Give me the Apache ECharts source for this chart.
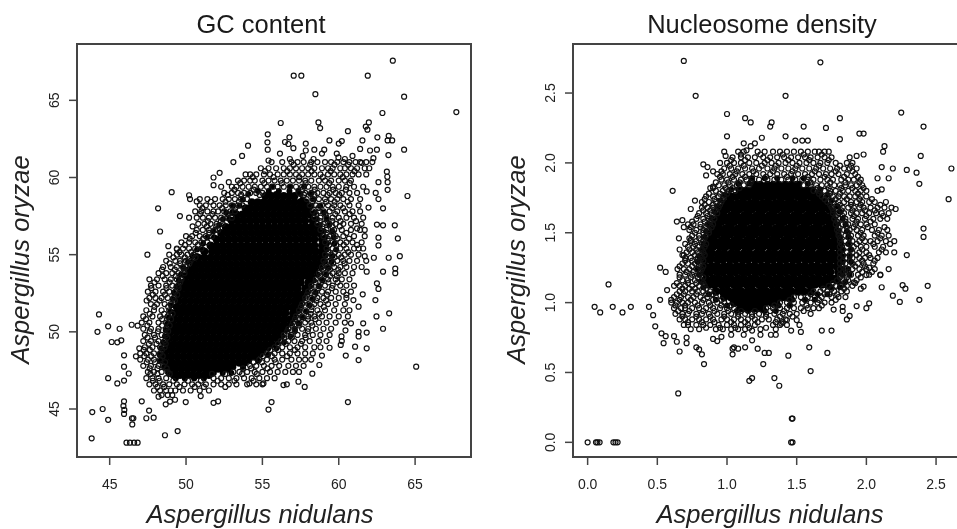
<!DOCTYPE html>
<html><head><meta charset="utf-8">
<style>html,body{margin:0;padding:0;background:#fff}#c{width:957px;height:529px;filter:blur(.45px)}</style>
<script src="https://cdn.jsdelivr.net/npm/echarts@6/dist/echarts.min.js"></script>
</head><body><div id="c"></div>
<script>
const gcTicksX=[45,50,55,60,65];
const gcTicksY=[45,50,55,60,65];
const nucTicksX=[0,0.5,1,1.5,2,2.5];
const nucTicksY=[0,0.5,1,1.5,2,2.5];
// individually readable GC content marks [nidulans, oryzae]
const gcSingles=[[63.54,67.57],[57.05,66.6],[57.55,66.6],[61.9,66.6],[58.47,65.4],[64.28,65.24],[67.7,64.24],[62.86,64.18],[56.2,63.53],[58.67,63.57],[58.78,63.2],[61.97,63.57],[61.77,63.3],[61.88,63.1],[60.6,63],[55.35,62.8],[55.33,62.28],[55.35,61.8],[56.77,62.6],[56.48,62.3],[56.7,62.17],[57.03,61.9],[57.84,62.2],[57.84,61.75],[59.39,62.4],[60.2,62.36],[60,62.2],[61.55,62.4],[62.53,62.6],[63.27,62.7],[63.2,62.4],[63.5,62.4],[54.06,62.06],[53.67,61.4],[53.1,61],[64.28,61.8],[63.25,61.45],[61.4,61.85],[62.05,61.75],[62.5,61.8],[62.27,61.25],[62.2,61],[58.4,61.8],[59.05,61.8],[58.9,61.55],[57.65,61.4],[58.35,61.2],[56.15,61.55],[56.8,61.2],[55.4,61.1],[59.87,61.55],[59.98,61.3],[60.4,61.2],[60.9,61.4],[61.5,60.95],[63.15,60.38],[63.18,60.05],[63.2,59.7],[62.6,59.7],[63.2,59.2],[64.5,58.8],[52.2,60.3],[51.8,60],[51.8,59.5],[52.3,59.4],[52.8,59.7],[49.06,59.05],[50.2,58.85],[50.26,58.6],[50.7,58.45],[48.17,58],[49.6,57.5],[48.3,56.5],[62.9,58],[62.42,59],[61.83,59.1],[62.6,58.6],[61.95,58.05],[62.5,56.95],[62.9,56.9],[63.67,56.9],[61.2,56.7],[63.87,56.05],[62.6,56.1],[62.6,55.6],[64,54.9],[63.27,54.8],[62.3,54.8],[61.7,54.9],[47.47,55],[48.84,55.55],[49.4,55.35],[65.07,47.74],[60.6,45.45],[55.6,45.45],[55.4,44.96],[43.82,43.1],[43.86,44.8],[44.54,45],[44.9,44.3],[44.3,51.13],[44.2,50],[44.9,50.36],[45.65,50.2],[45.13,49.34],[45.5,49.32],[45.76,49.45],[45.94,48.48],[45.94,47.74],[44.9,47],[45.5,46.66],[45.94,46.84],[46.25,47.3],[46.44,50.46],[46.83,50.4],[46.72,48.41],[46.94,48.93],[45.94,45.5],[45.9,45.2],[45.96,44.94],[45.94,44.68],[46.46,44.4],[46.55,44.4],[46.48,44],[46.1,42.82],[46.33,42.82],[46.6,42.82],[46.83,42.82],[47.1,45.5],[47.58,44.9],[47.4,44.4],[47.88,44.44],[48.62,43.3],[49.45,43.57],[48.67,45.3],[48.95,45.48],[49.28,45.6],[49.98,45.45],[50.96,45.84],[51.8,45.4],[52.1,45.5],[48.2,45.8],[57.77,46.43],[57.36,46.77],[56.38,46.55],[56.6,46.6],[54.15,46.66],[55.07,46.66],[58.27,47.29],[58.73,47.85],[58.9,48.46],[59.4,48.97],[60.46,48.46],[61.3,48.17],[61.83,48.93],[61.07,49.04],[60.13,49.15],[60.2,49.4],[60.18,49.7],[61.3,49.7],[61.3,50],[61.83,49.95],[62.9,50.2],[62.47,51],[63.3,51.2],[61.6,50.55],[60.8,50.55],[60.44,50.1],[62.4,52.06],[62.5,53.14],[62.6,52.78],[61.83,53.9],[62.9,53.9],[63.7,54.1],[63.7,53.8],[61.57,52.43],[61.3,51.63],[60.96,52.06],[60.5,52.4]];
// rows [oryzae, nidulans...] estimated around the solid centre
const gcFringeRows=[
[61,55.6,56.3,56.9,57.3,57.7,58.2,58.6,59.1,59.5,59.9,60.3,60.7,61.1,61.4,61.8],
[60.6,54.9,55.4,55.9,56.4,56.8,57.2,57.6,58,58.4,58.9,59.3,59.6,60.1,60.4,60.8,61.2,61.7,62],
[60.2,53.9,54.2,54.6,55.1,55.5,56,56.4,56.8,57.2,57.6,58,58.4,58.8,59.3,59.7,60.1,60.5,60.9,61.3,61.8],
[59.8,53.4,53.8,54.2,54.5,55,55.4,55.8,56.2,56.6,57,57.4,57.8,58.2,58.7,59.1,59.5,60,60.4,60.8],
[59.4,53,53.3,53.7,54.1,54.5,54.9,55.3,55.7,56,56.4,56.8,57.2,57.6,58,58.4,58.8,59.2,59.6,60,60.5,61,61.6],
[59,52.5,53,53.4,53.8,54.2,54.6,55,57.4,57.8,58.2,58.6,59,59.4,59.8,60.2,60.7,61.2],
[58.6,50.9,51.4,51.9,52.4,52.8,53.2,53.6,54,57.9,58.3,58.7,59.1,59.5,59.9,60.3,60.8,61.4],
[58.2,50.9,51.3,51.8,52.2,52.6,53,53.4,53.7,58.1,58.5,58.9,59.3,59.7,60.1,60.7,61.3],
[57.8,50.6,51,51.4,51.8,52.1,52.5,52.9,53.2,58.3,58.7,59,59.4,59.9,60.4,60.9,61.4],
[57.4,50.2,50.7,51.1,51.5,51.9,52.3,52.7,53,58.4,58.8,59.2,59.6,60,60.5,61,61.6],
[57,50.8,51.2,51.6,52,52.4,58.6,59,59.4,59.8,60.3,60.8,61.5],
[56.6,50.7,51.1,51.5,51.9,52.1,58.8,59.2,59.7,60.2,60.8,61.4,61.7],
[56.2,50,50.4,50.9,51.3,51.7,59,59.4,59.8,60.3,61,61.7],
[55.8,49.7,50.2,50.6,51,51.4,59.1,59.6,60.1,60.5,60.9,61.5],
[55.4,49.4,49.8,50.2,50.6,51,59.2,59.6,60.1,60.5,61,61.3,61.6],
[55,48.9,49.4,49.7,50.1,50.5,59.1,59.5,60,60.4,60.8,61.3],
[54.6,48.7,49.3,49.6,50,50.3,59,59.4,59.9,60.3,60.7,61.2,61.8],
[54.2,48.5,49,49.4,49.8,50,58.9,59.3,59.7,60.1,60.5,61,61.5],
[53.8,48.2,48.7,49.1,49.5,49.9,58.7,59.1,59.6,60,60.4,60.9],
[53.4,47.6,48.1,48.6,49,49.4,49.7,58.5,58.9,59.3,59.8,60.2,60.7],
[53,47.7,48.2,48.7,49.1,49.5,58.2,58.7,59.1,59.6,60.1,60.5,61],
[52.6,47.5,48,48.5,48.9,49.3,58,58.4,58.9,59.3,59.8,60.3,60.8],
[52.2,47.6,48,48.4,48.8,49.2,57.8,58.2,58.6,59,59.5,60,60.5],
[51.8,47.7,48.1,48.6,49,57.6,58,58.4,58.8,59.3,59.8,60.4],
[51.4,47.4,47.9,48.4,48.9,57.4,57.8,58.2,58.6,59.1,59.7,60.3,60.7],
[51,47.2,47.8,48.3,48.8,57.2,57.6,58,58.4,58.9,59.4,60,60.6],
[50.6,47.1,47.6,48.2,48.7,57,57.4,57.8,58.2,58.7,59.2,59.8,60.4],
[50.2,47.2,47.7,48.2,48.7,56.7,57.1,57.6,58,58.5,59,59.5],
[49.8,47.3,47.9,48.4,48.7,56.4,56.9,57.3,57.8,58.3,58.8,59.4],
[49.4,47.2,47.7,48.2,48.6,56.2,56.7,57.1,57.6,58.1,58.7,59.2],
[49,47.3,47.8,48.3,48.6,55.8,56.3,56.8,57.3,57.8,58.4,58.8],
[48.6,47,47.4,47.9,48.3,55.3,55.8,56.3,56.8,57.3,57.8,58.3],
[48.2,47,47.5,47.9,48.3,54.8,55.3,55.8,56.3,56.9,57.4,57.8,58.2],
[47.8,47.2,47.7,48.2,48.5,54.2,54.6,55.1,55.6,56.1,56.7,57.2,57.7],
[47.4,47.5,47.9,48.4,48.8,53.1,53.5,54,54.5,55,55.5,56,56.5,57,57.4],
[47,47.4,47.8,48.2,48.7,51.8,52.3,52.8,53.3,53.8,54.3,54.8,55.3,55.8],
[46.6,47.6,48,48.5,48.9,49.4,49.9,50.4,50.8,51.3,51.8,52.3,52.8,53.3,54,54.6,55],
[46.2,47.9,48.3,48.7,49,49.3,49.8,50.3,50.9,51.5],
[45.9,48.4,48.8,49.1]];
const gcFringeExtra=[[60.83,57.05,58.13,59.72,60.62],[60.41,55.17,56.63,58.22,59.47,61.03],[60.03,54.37,55.73,57.41,58.96,60.27],[59.63,53.55,55.12,56.27,57.83,59.38,60.72],[59.21,53.17,54.43,57.62,58.43,59.64,60.47],[58.87,52.73,53.61,54.82,57.73,58.41,59.27,60.03],[58.43,51.62,52.58,53.46,58.27,59.18,59.73,60.58],[58.02,51.07,52.37,53.23,58.66,59.57,60.28],[57.63,50.93,51.73,52.72,58.52,59.13,59.77,60.71],[57.17,51.43,52.28,58.81,59.58,60.12,61.13],[56.83,50.43,51.37,51.98,58.93,59.57,60.07],[56.41,50.63,51.52,59.22,59.63,60.5],[56.04,50.24,51.12,59.28,59.92,60.67],[55.63,49.93,50.78,59.37,59.83,60.33,61.2],[55.17,49.57,50.33,59.32,59.76,60.62],[54.83,49.17,49.92,50.63,59.27,59.72,60.17],[54.43,48.93,49.62,50.22,59.12,59.63,60.38],[54.03,48.43,49.27,49.87,58.97,59.42,59.97],[53.62,48.47,49.33,58.77,59.43,59.87],[53.21,47.93,48.92,49.62,58.47,59.33,59.92],[52.83,47.73,48.72,49.51,58.22,58.67,59.56],[52.41,47.83,48.62,49.42,57.93,58.42,59.22],[52.03,47.42,48.27,49.27,57.83,58.52,59.17],[51.62,47.93,48.83,57.52,58.23,59.02],[51.17,47.62,48.57,49.12,57.43,58.17,58.73],[50.82,47.38,48.43,49.02,57.13,57.98,58.47],[50.41,47.47,48.43,48.93,56.93,57.42,58.27],[50.03,47.62,48.17,48.83,56.63,57.12,57.97],[49.63,47.48,47.97,48.77,56.42,56.93,57.83],[49.22,47.57,48.07,48.67,56.02,56.53,57.52],[48.83,47.23,47.63,48.42,55.52,56.03,57.13],[48.42,47.27,47.73,48.47,55.03,55.63,56.62],[48.03,47.43,47.97,48.63,54.42,54.97,55.87],[47.63,47.62,48.13,48.73,53.73,54.27,55.33],[47.27,47.67,48.12,48.93,51.7,52.57,53.67,54.63],[46.83,47.83,48.27,49.17,50.13,50.97,52.07,53.17,54.42],[46.43,48.13,48.57,49.57,50.57,51.17,52.57]];
const gcEdgeRows=[[59.13,54.7,55.42,56.08,56.77,57.35],[59.42,55.63,56.83,57.73],[58.93,54.08,55.9,57.48,58.17],[58.57,53.72,57.62,58.36],[58.17,53.07,53.5,58.21,58.78],[57.73,52.63,53.02,58.42,59.03],[57.31,52.42,52.82,58.57,59.21],[56.93,52.17,58.76,59.37],[56.52,51.78,59.02,59.58],[56.13,51.4,51.83,59.13,59.67],[55.72,51.12,59.23,59.72],[55.33,50.72,51.07,59.21,59.83],[54.92,50.42,50.7,59.12,59.6],[54.52,50.13,50.36,59.07,59.52],[54.13,49.82,58.83,59.33],[53.72,49.67,58.61,59.17],[53.33,49.53,58.37,58.93],[52.93,49.37,58.12,58.71],[52.53,49.21,57.93,58.5],[52.13,49.13,57.66,58.27],[51.72,49.02,57.52,58.07],[51.33,48.97,57.33,57.86],[50.93,48.88,57.12,57.62],[50.52,48.77,56.86,57.37],[50.12,48.67,56.57,57.13],[49.72,48.62,56.3,56.83],[49.32,48.5,56,56.42],[48.93,48.37,55.4,55.92],[48.52,48.27,54.9,55.37],[48.12,48.33,54.13,54.72],[47.72,48.57,53.1,53.73],[47.33,48.87,51.82,52.4,52.97],[46.97,49.33,49.92,50.53,51.17]];
// rows where the rings overlap into solid black
const gcCoreRows=[
[58.8,55.2,55.6,56,56.4,56.8,57.1],
[58.4,54.3,54.7,55.1,55.5,55.9,56.3,56.7,57.1,57.5,57.8],
[58,53.9,54.2,54.6,55,55.4,55.8,56.2,56.6,57,57.4,57.8,58],
[57.6,53.3,53.7,54.1,54.5,54.9,55.3,55.7,56.1,56.5,56.9,57.3,57.7,58.1],
[57.2,53,53.4,53.8,54.2,54.6,55,55.4,55.8,56.2,56.6,57,57.4,57.8,58.3],
[56.8,52.6,53,53.4,53.8,54.2,54.6,55,55.4,55.8,56.2,56.6,57,57.4,57.8,58.2,58.6],
[56.4,52.3,52.7,53.1,53.5,53.9,54.3,54.7,55.1,55.5,55.9,56.3,56.7,57.1,57.5,57.9,58.3,58.7],
[56,52,52.4,52.8,53.2,53.6,54,54.4,54.8,55.2,55.6,56,56.4,56.8,57.2,57.6,58,58.4,58.9],
[55.6,51.6,52,52.4,52.8,53.2,53.6,54,54.4,54.8,55.2,55.6,56,56.4,56.8,57.2,57.6,58,58.4,58.9],
[55.2,51.2,51.7,52.1,52.5,52.9,53.3,53.7,54.1,54.5,54.9,55.3,55.7,56.1,56.5,56.9,57.3,57.7,58.1,58.5,58.9],
[54.8,50.8,51.2,51.6,52,52.4,52.8,53.2,53.6,54,54.4,54.8,55.2,55.6,56,56.4,56.8,57.2,57.6,58,58.4,58.8],
[54.4,50.5,50.9,51.3,51.7,52.1,52.5,52.9,53.3,53.7,54.1,54.5,54.9,55.3,55.7,56.1,56.5,56.9,57.3,57.7,58.1,58.5,58.7],
[54,50.2,50.6,51,51.4,51.8,52.2,52.6,53,53.4,53.8,54.2,54.6,55,55.4,55.8,56.2,56.6,57,57.4,57.8,58.2,58.4],
[53.6,50,50.4,50.8,51.2,51.6,52,52.4,52.8,53.2,53.6,54,54.4,54.8,55.2,55.6,56,56.4,56.8,57.2,57.6,58,58.2],
[53.2,49.9,50.3,50.7,51.1,51.5,51.9,52.3,52.7,53.1,53.5,53.9,54.3,54.7,55.1,55.5,55.9,56.3,56.7,57.1,57.5,58],
[52.8,49.7,50.1,50.5,50.9,51.3,51.7,52.1,52.5,52.9,53.3,53.7,54.1,54.5,54.9,55.3,55.7,56.1,56.5,56.9,57.3,57.8],
[52.4,49.6,50,50.4,50.8,51.2,51.6,52,52.4,52.8,53.2,53.6,54,54.4,54.8,55.2,55.6,56,56.4,56.8,57.2,57.6],
[52,49.5,49.9,50.3,50.7,51.1,51.5,51.9,52.3,52.7,53.1,53.5,53.9,54.3,54.7,55.1,55.5,55.9,56.3,56.7,57.1,57.4],
[51.6,49.4,49.8,50.2,50.6,51,51.4,51.8,52.2,52.6,53,53.4,53.8,54.2,54.6,55,55.4,55.8,56.2,56.6,57,57.2],
[51.2,49.3,49.7,50.1,50.5,50.9,51.3,51.7,52.1,52.5,52.9,53.3,53.7,54.1,54.5,54.9,55.3,55.7,56.1,56.5,57],
[50.8,49.2,49.6,50,50.4,50.8,51.2,51.6,52,52.4,52.8,53.2,53.6,54,54.4,54.8,55.2,55.6,56,56.4,56.8],
[50.4,49.1,49.5,49.9,50.3,50.7,51.1,51.5,51.9,52.3,52.7,53.1,53.5,53.9,54.3,54.7,55.1,55.5,55.9,56.3,56.5],
[50,49,49.4,49.8,50.2,50.6,51,51.4,51.8,52.2,52.6,53,53.4,53.8,54.2,54.6,55,55.4,55.8,56.2],
[49.6,48.9,49.3,49.7,50.1,50.5,50.9,51.3,51.7,52.1,52.5,52.9,53.3,53.7,54.1,54.5,54.9,55.3,55.7,56],
[49.2,48.8,49.2,49.6,50,50.4,50.8,51.2,51.6,52,52.4,52.8,53.2,53.6,54,54.4,54.8,55.2,55.6],
[48.8,48.7,49.1,49.5,49.9,50.3,50.7,51.1,51.5,51.9,52.3,52.7,53.1,53.5,53.9,54.3,54.7,55],
[48.4,48.6,49,49.4,49.8,50.2,50.6,51,51.4,51.8,52.2,52.6,53,53.4,53.8,54.2,54.5],
[48,48.7,49.1,49.5,49.9,50.3,50.7,51.1,51.5,51.9,52.3,52.7,53.1,53.5,53.8],
[47.6,48.9,49.3,49.7,50.1,50.5,50.9,51.3,51.7,52.1,52.5,52.8],
[47.2,49.2,49.6,50,50.4,50.8,51.2,51.5]];
const nucSingles=[[.69,2.73],[1.67,2.72],[.775,2.48],[1.42,2.48],[1,2.35],[1.13,2.32],[1.17,2.29],[1.32,2.29],[1.31,2.26],[1.55,2.26],[1.71,2.25],[1.81,2.32],[2.25,2.36],[2.41,2.26],[1,2.19],[1.25,2.18],[1.42,2.19],[1.49,2.16],[1.54,2.16],[1.58,2.16],[1.81,2.17],[1.95,2.21],[1.98,2.21],[1.12,2.14],[1.2,2.14],[1.17,2.12],[1.14,2.09],[2.13,2.12],[2.12,2.08],[2.39,2.05],[1.98,2.06],[1.93,2.05],[2.11,1.97],[2.19,1.96],[2.29,1.95],[2.36,1.93],[2.38,1.85],[2.61,1.96],[2.59,1.74],[2.08,1.89],[2.16,1.89],[.61,1.8],[.77,1.73],[.74,1.67],[.98,2.08],[.99,2.05],[.83,1.99],[.86,1.97],[.85,1.91],[.9,1.94],[.93,1.92],[.95,2],[.88,1.82],[.9,1.83],[2.41,1.53],[2.41,1.47],[2.29,1.34],[2.21,1.67],[2.14,1.72],[2.11,1.81],[2.08,1.8],[.64,1.58],[.68,1.59],[.655,1.46],[.66,1.38],[.68,1.34],[.69,1.54],[.74,1.45],[.15,1.13],[.05,.97],[.09,.93],[.18,.97],[.25,.93],[.31,.97],[.44,.97],[.47,.91],[.485,.83],[.52,1.02],[.57,1.09],[.52,1.25],[.56,1.22],[.645,1.24],[.53,.78],[.56,.76],[.545,.71],[.62,.76],[.64,.72],[.71,.75],[.71,.71],[.66,.65],[.78,.68],[.8,.665],[.82,.63],[.835,.56],[.65,.35],[.9,.74],[.93,.725],[.96,.755],[1.03,.77],[1.12,.77],[1.18,.8],[1.18,.73],[1.24,.77],[1.05,.68],[1.04,.67],[1.04,.63],[1.08,.67],[1.13,.68],[1.22,.67],[1.27,.64],[1.3,.64],[1.44,.62],[1.59,.68],[1.72,.64],[1.6,.51],[1.26,.56],[1.18,.46],[1.16,.44],[1.34,.46],[1.375,.405],[1.315,.77],[1.35,.77],[1.46,.8],[1.53,.79],[1.68,.8],[1.75,.8],[1.465,.17],[1.47,.17],[0,0],[.06,0],[.086,0],[.07,0],[.185,0],[.215,0],[.2,0],[1.46,0],[1.47,0],[2.44,1.12],[2.38,1.02],[2.19,1.05],[2.24,1.005],[2.26,1.125],[2.28,1.1],[2.11,1.11],[2.02,.995],[2,.96],[1.93,.975],[1.88,.905],[1.86,.88],[1.83,.97],[1.83,.94],[1.765,.95],[1.735,1.06],[1.98,1.115],[1.96,1.1],[1.91,1.145],[2,1.197],[2.1,1.197],[2.16,1.24],[2.02,1.25],[1.5,.875],[1.52,.84],[1.43,.875],[1.39,.85]];
const nucFringeRows=[
[2.08,1.08,1.12,1.22,1.27,1.33,1.38,1.43,1.48,1.53,1.58,1.63,1.66,1.7,1.73],
[2.04,1.04,1.1,1.15,1.2,1.26,1.31,1.36,1.41,1.46,1.51,1.56,1.6,1.65,1.7,1.75,1.88],
[2,1,1.05,1.1,1.16,1.21,1.27,1.32,1.37,1.42,1.47,1.52,1.57,1.62,1.67,1.72,1.78,1.86,1.9],
[1.96,.98,1.03,1.08,1.13,1.18,1.23,1.29,1.34,1.39,1.44,1.49,1.54,1.59,1.64,1.69,1.74,1.79,1.84,1.88,1.93],
[1.92,.97,1.02,1.06,1.11,1.16,1.21,1.26,1.31,1.36,1.41,1.46,1.51,1.56,1.61,1.66,1.71,1.75,1.8,1.86,1.92],
[1.88,.96,1,1.05,1.1,1.14,1.18,1.23,1.29,1.34,1.39,1.44,1.49,1.54,1.58,1.62,1.67,1.72,1.76,1.82,1.87,1.91,1.96],
[1.84,.94,.98,1.02,1.07,1.12,1.16,1.55,1.6,1.64,1.68,1.72,1.77,1.81,1.85,1.89,1.93,1.97],
[1.8,.92,.97,1.01,1.06,1.62,1.66,1.7,1.74,1.78,1.83,1.87,1.92,1.96,2],
[1.76,.85,.9,.94,.98,1.68,1.72,1.76,1.8,1.84,1.88,1.92,1.96,2],
[1.72,.82,.87,.92,.96,1.72,1.76,1.8,1.84,1.89,1.93,1.97,2.02,2.06],
[1.68,.82,.86,.9,.94,1.75,1.79,1.83,1.87,1.91,1.95,1.98,2.03,2.08,2.13,2.18],
[1.64,.8,.85,.89,.93,1.76,1.8,1.84,1.89,1.93,1.97,2.02,2.07,2.11,2.16],
[1.6,.78,.83,.87,.91,1.77,1.81,1.85,1.9,1.94,1.99,2.05,2.1,2.15],
[1.56,.72,.76,.81,.86,.9,1.78,1.83,1.87,1.92,1.96,2,2.06],
[1.52,.73,.78,.83,.87,1.79,1.84,1.88,1.93,1.97,2.04,2.09,2.15],
[1.48,.75,.8,.85,1.8,1.85,1.89,1.94,1.98,2.06,2.11,2.16],
[1.44,.74,.78,.83,1.81,1.85,1.9,1.95,1.99,2.03,2.08,2.14,2.2],
[1.4,.72,.76,.8,.84,1.81,1.86,1.91,1.96,2,2.06,2.12],
[1.36,.71,.75,.79,.83,1.81,1.86,1.9,1.95,2,2.09,2.14,2.2],
[1.32,.7,.74,.79,.82,1.81,1.86,1.9,1.95,1.99,2.03,2.08],
[1.28,.68,.72,.77,.81,1.81,1.85,1.9,1.94,1.98,2.05],
[1.24,.69,.73,.78,.82,1.81,1.85,1.9,1.95,2,2.06],
[1.2,.66,.7,.75,.8,1.81,1.85,1.89,1.94,2.02,2.1],
[1.16,.68,.72,.77,.82,1.79,1.83,1.87,1.93],
[1.12,.62,.66,.7,.75,.8,.84,1.73,1.78,1.82,1.86,1.9],
[1.08,.66,.7,.75,.79,.83,.88,1.62,1.67,1.72,1.77,1.82,1.86],
[1.04,.62,.67,.72,.76,.81,.86,.92,1.48,1.53,1.58,1.63,1.68,1.75,1.8,1.85],
[1,.6,.64,.68,.72,.77,.82,.87,.93,.98,1.38,1.43,1.48,1.54,1.6,1.65,1.7,1.75],
[.96,.62,.67,.7,.75,.8,.85,.9,.95,1,1.05,1.28,1.33,1.38,1.43,1.48,1.53,1.58,1.62,1.66],
[.92,.63,.68,.72,.78,.82,.87,.93,.98,1.03,1.08,1.13,1.18,1.23,1.28,1.34,1.4,1.45,1.5,1.6],
[.88,.66,.7,.75,.8,.85,.9,.96,1,1.05,1.1,1.15,1.2,1.25,1.3,1.36,1.42],
[.84,.69,.72,.78,.83,.88,.94,1,1.05,1.1,1.15,1.2,1.33,1.38,1.43],
[.81,.74,.8,.92,.97,1.03,1.08,1.13,1.24,1.35]];
const nucFringeExtra=[[2.06,1.1,1.24,1.4,1.55,1.68],[2.02,1.03,1.13,1.29,1.44,1.59,1.73],[1.98,1.02,1.12,1.25,1.35,1.5,1.66,1.81,1.89],[1.94,.96,1.07,1.19,1.33,1.47,1.63,1.78,1.9],[1.9,.95,1.04,1.13,1.28,1.43,1.58,1.7,1.84,1.94],[1.86,.92,1.01,1.09,1.17,1.6,1.74,1.85,1.95],[1.82,.9,.99,1.04,1.09,1.65,1.73,1.82,1.9,1.98],[1.78,.87,.95,1,1.66,1.74,1.81,1.94],[1.74,.84,.91,.97,1.7,1.78,1.86,1.95,2.04],[1.7,.84,.9,.95,1.74,1.81,1.89,1.96,2.1],[1.66,.83,.88,.92,1.76,1.82,1.9,1.99,2.06],[1.62,.79,.86,.9,1.78,1.83,1.91,2,2.12],[1.58,.75,.84,.88,1.79,1.85,1.93,2.03],[1.54,.74,.81,.85,.89,1.8,1.86,1.91,2.01,2.13],[1.5,.77,.83,.87,1.8,1.87,1.96,2.08],[1.46,.73,.8,.84,1.81,1.88,1.97,2.1],[1.42,.7,.77,.82,.85,1.82,1.88,1.93,2.05,2.17],[1.38,.73,.78,.82,1.83,1.89,1.97,2.11],[1.34,.69,.77,.81,.84,1.83,1.88,1.93,2.02],[1.3,.7,.75,.8,.83,1.83,1.88,1.97,2.06],[1.26,.66,.75,.8,.83,1.83,1.92,1.99],[1.22,.71,.76,.81,1.83,1.87,1.97,2.04],[1.18,.66,.74,.79,.83,1.81,1.86,1.96],[1.14,.64,.72,.78,.83,1.76,1.84,1.92],[1.1,.68,.73,.77,.85,1.69,1.75,1.84],[1.06,.64,.69,.78,.85,.9,1.6,1.7,1.79],[1.02,.6,.66,.74,.83,.9,.96,1.45,1.56,1.66,1.78],[.98,.63,.7,.79,.88,.96,1.03,1.34,1.45,1.57,1.68],[.94,.65,.73,.83,.91,1.01,1.1,1.2,1.31,1.41,1.55],[.9,.68,.78,.88,.98,1.08,1.18,1.28,1.38,1.47],[.86,.72,.82,.91,1.03,1.13,1.22,1.35,1.4],[.82,.85,.95,1.06,1.16,1.28]];
const nucEdgeRows=[[1.89,1.18,1.27,1.36,1.47,1.55],[1.85,1.08,1.16,1.52,1.58],[1.81,1.03,1.08,1.61,1.67],[1.77,.98,1.67,1.72],[1.73,.95,1.7,1.75],[1.69,.93,1.73,1.79],[1.65,.91,1.76,1.81],[1.6,.89,1.77,1.83],[1.56,.87,1.79,1.85],[1.51,.85,1.8,1.86],[1.47,.84,1.81,1.87],[1.42,.83,1.82,1.87],[1.38,.82,1.83,1.89],[1.33,.8,1.83,1.88],[1.29,.79,1.83,1.89],[1.24,.79,1.83,1.87],[1.2,.8,1.83,1.88],[1.15,.81,1.8,1.85],[1.11,.83,1.75,1.81],[1.06,.87,1.65,1.72],[1.02,.92,1.47,1.56,1.63],[.98,1,1.37,1.45],[.94,1.07,1.15,1.27,1.35]];
const nucCoreRows=[
[1.84,1.2,1.24,1.29,1.33,1.37,1.42,1.46,1.5],
[1.8,1.1,1.14,1.18,1.23,1.27,1.31,1.36,1.4,1.44,1.49,1.53,1.57,1.6],
[1.76,1.02,1.06,1.11,1.15,1.2,1.24,1.29,1.33,1.38,1.42,1.46,1.51,1.55,1.6,1.63,1.66],
[1.71,.99,1.03,1.08,1.12,1.17,1.21,1.26,1.3,1.35,1.39,1.44,1.48,1.53,1.57,1.62,1.66,1.7],
[1.67,.96,1,1.05,1.09,1.14,1.18,1.23,1.27,1.32,1.36,1.41,1.45,1.5,1.54,1.59,1.63,1.68,1.73],
[1.62,.94,.98,1.03,1.07,1.12,1.16,1.21,1.25,1.3,1.34,1.39,1.43,1.48,1.52,1.57,1.61,1.66,1.7,1.75],
[1.58,.92,.96,1.01,1.05,1.1,1.14,1.19,1.23,1.28,1.32,1.37,1.41,1.46,1.5,1.55,1.59,1.64,1.68,1.73,1.76],
[1.53,.9,.94,.99,1.03,1.08,1.12,1.17,1.21,1.26,1.3,1.35,1.39,1.44,1.48,1.53,1.57,1.62,1.66,1.71,1.75,1.77],
[1.49,.89,.93,.98,1.02,1.07,1.11,1.16,1.2,1.25,1.29,1.34,1.38,1.43,1.47,1.52,1.56,1.61,1.65,1.7,1.74,1.78],
[1.44,.87,.91,.96,1,1.05,1.09,1.14,1.18,1.23,1.27,1.32,1.36,1.41,1.45,1.5,1.54,1.59,1.63,1.68,1.72,1.77,1.79],
[1.4,.86,.9,.95,.99,1.04,1.08,1.13,1.17,1.22,1.26,1.31,1.35,1.4,1.44,1.49,1.53,1.58,1.62,1.67,1.71,1.76,1.8],
[1.35,.85,.89,.94,.98,1.03,1.07,1.12,1.16,1.21,1.25,1.3,1.34,1.39,1.43,1.48,1.52,1.57,1.61,1.66,1.7,1.75,1.8],
[1.31,.84,.88,.93,.97,1.02,1.06,1.11,1.15,1.2,1.24,1.29,1.33,1.38,1.42,1.47,1.51,1.56,1.6,1.65,1.69,1.74,1.78,1.8],
[1.26,.84,.89,.93,.98,1.02,1.07,1.11,1.16,1.2,1.25,1.29,1.34,1.38,1.43,1.47,1.52,1.56,1.61,1.65,1.7,1.74,1.79],
[1.22,.84,.88,.93,.97,1.02,1.06,1.11,1.15,1.2,1.24,1.29,1.33,1.38,1.42,1.47,1.51,1.56,1.6,1.65,1.69,1.74,1.8],
[1.17,.85,.9,.94,.99,1.03,1.08,1.12,1.17,1.21,1.26,1.3,1.35,1.39,1.44,1.48,1.53,1.57,1.62,1.66,1.71,1.75,1.78],
[1.13,.87,.91,.96,1,1.05,1.09,1.14,1.18,1.23,1.27,1.32,1.36,1.41,1.45,1.5,1.54,1.59,1.63,1.68,1.72],
[1.08,.92,.97,1.01,1.06,1.1,1.15,1.19,1.24,1.28,1.33,1.37,1.42,1.46,1.51,1.55,1.6],
[1.04,.98,1.03,1.07,1.12,1.16,1.21,1.25,1.3,1.34,1.39,1.43,1.45],
[1,1.05,1.09,1.14,1.18,1.23,1.27,1.32,1.35],
[.96,1.1,1.15,1.2,1.25]];

const INK='#111', FRAME='#444', TEXT='#222';
const GC_X=[42.86,68.66], GC_Y=[41.89,68.65], NUC_X=[-0.105,2.765], NUC_Y=[-0.105,2.851];
const expand=rows=>rows.flatMap(r=>r.slice(1).map(x=>[x,r[0]]));
const ring=(i,data)=>({type:'scatter',xAxisIndex:i,yAxisIndex:i,data,symbol:'circle',symbolSize:5,silent:true,
  itemStyle:{color:'transparent',borderColor:INK,borderWidth:1.2,opacity:1}});
const core=(i,data,size)=>({type:'scatter',xAxisIndex:i,yAxisIndex:i,data,symbol:'circle',symbolSize:size,silent:true,
  itemStyle:{color:'#000',borderWidth:0,opacity:1}});
const axisLine={show:true,onZero:false,lineStyle:{color:FRAME,width:1.5}};
const xAxis=(i,range,ticks,fmt,pad)=>({type:'value',gridIndex:i,min:range[0],max:range[1],splitLine:{show:false},
  axisLine,axisTick:{show:false},
  axisLabel:{show:true,customValues:ticks,formatter:fmt,margin:21,fontFamily:'Liberation Sans',fontSize:14,color:TEXT},
  name:'Aspergillus nidulans',nameLocation:'middle',nameGap:46,
  nameTextStyle:{fontFamily:'Liberation Sans',fontStyle:'italic',fontSize:25.5,color:TEXT,padding:pad}});
const yAxis=(i,range,ticks,fmt)=>({type:'value',gridIndex:i,min:range[0],max:range[1],splitLine:{show:false},
  axisLine,axisTick:{show:false},
  axisLabel:{show:true,customValues:ticks,formatter:fmt,rotate:90,margin:15,fontFamily:'Liberation Sans',fontSize:14,color:TEXT,align:'center',verticalAlign:'bottom'},
  name:'Aspergillus oryzae',nameLocation:'middle',nameGap:42,nameRotate:90,
  nameTextStyle:{fontFamily:'Liberation Sans',fontStyle:'italic',fontSize:25.5,color:TEXT,padding:[0,18,0,0]}});
const titleStyle={fontFamily:'Liberation Sans',fontWeight:'normal',fontSize:25.5,color:'#1a1a1a'};
const gridBase={top:44,height:413,show:true,borderColor:FRAME,borderWidth:2,backgroundColor:'transparent',containLabel:false,outerBoundsMode:'none'};
const chart=echarts.init(document.getElementById('c'),null,{renderer:'canvas'});
chart.setOption({
  animation:false,backgroundColor:'#fff',
  title:[
    {text:'GC content',left:256,top:8,textAlign:'center',textStyle:titleStyle},
    {text:'Nucleosome density',left:757,top:8,textAlign:'center',textStyle:titleStyle}],
  grid:[Object.assign({left:77,width:394},gridBase),Object.assign({left:573,width:400},gridBase)],
  xAxis:[xAxis(0,GC_X,gcTicksX,v=>String(v),[0,28,0,0]),xAxis(1,NUC_X,nucTicksX,v=>v.toFixed(1),[0,6,0,0])],
  yAxis:[yAxis(0,GC_Y,gcTicksY,v=>String(v)),yAxis(1,NUC_Y,nucTicksY,v=>v.toFixed(1))],
  series:[
    core(0,expand(gcCoreRows),8),core(0,expand(gcEdgeRows),6),ring(0,expand(gcFringeRows)),ring(0,expand(gcFringeExtra)),ring(0,gcSingles),
    core(1,expand(nucCoreRows),8.8),core(1,expand(nucEdgeRows),6),ring(1,expand(nucFringeRows)),ring(1,expand(nucFringeExtra)),ring(1,nucSingles)]
});
// outward tick strokes positioned through the axes' own scales
const tickLine=(p,dx,dy)=>({type:'line',z:100,silent:true,shape:{x1:p[0],y1:p[1],x2:p[0]+dx,y2:p[1]+dy},style:{stroke:FRAME,lineWidth:1.5}});
const px=(i,pt)=>chart.convertToPixel({gridIndex:i},pt);
chart.setOption({graphic:[
  ...gcTicksX.map(t=>tickLine(px(0,[t,GC_Y[0]]),0,8)),
  ...gcTicksY.map(t=>tickLine(px(0,[GC_X[0],t]),-8,0)),
  ...nucTicksX.map(t=>tickLine(px(1,[t,NUC_Y[0]]),0,8)),
  ...nucTicksY.map(t=>tickLine(px(1,[NUC_X[0],t]),-8,0))]});
</script></body></html>
